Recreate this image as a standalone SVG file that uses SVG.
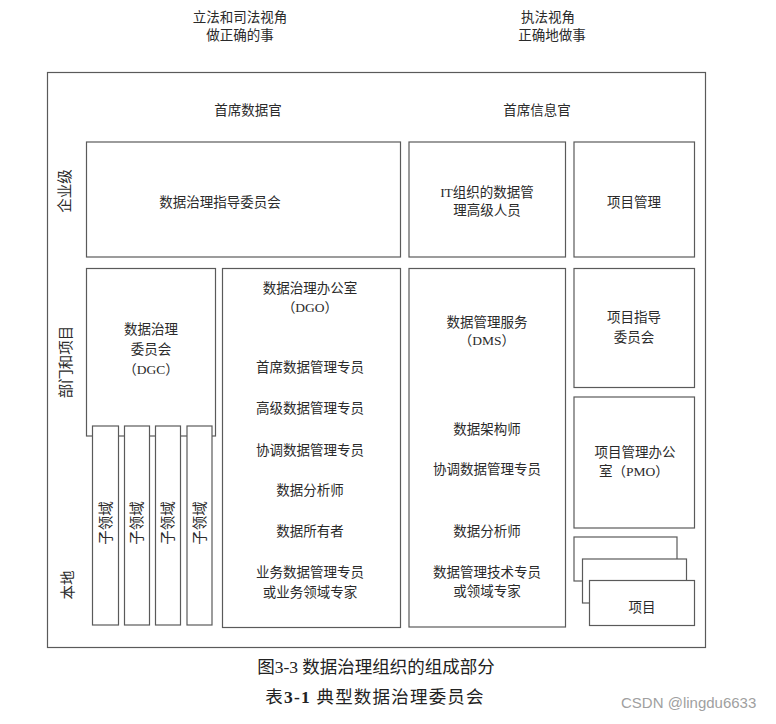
<svg xmlns="http://www.w3.org/2000/svg" width="776" height="724" viewBox="0 0 776 724">
<style>
.b{fill:#fff;stroke:#5a5a5a;stroke-width:1.2}
.t{font-family:"Liberation Serif","Noto Sans CJK SC",serif;font-size:13.5px;fill:#2a2a2a;text-anchor:middle}
.v{font-family:"Liberation Serif","Noto Sans CJK SC",serif;font-size:14.5px;fill:#2a2a2a;text-anchor:middle}
.cap{font-family:"Liberation Serif","Noto Sans CJK SC",serif;font-size:17.5px;font-weight:normal;fill:#222;text-anchor:middle}
.wm{font-family:"Liberation Sans","Noto Sans",sans-serif;font-size:15px;fill:#a0a0a0}
</style>
<rect width="776" height="724" fill="#fff"/>
<g id="headers">
<text class="t" x="240" y="22">立法和司法视角</text>
<text class="t" x="240" y="40">做正确的事</text>
<text class="t" x="548" y="22">执法视角</text>
<text class="t" x="552" y="40">正确地做事</text>
</g>
<g id="frame">
<rect class="b" x="47.5" y="72.5" width="658" height="575"/>
<text class="t" x="248" y="115">首席数据官</text>
<text class="t" x="537" y="115">首席信息官</text>
<text class="v" transform="translate(70,191) rotate(-90)">企业级</text>
<text class="v" transform="translate(71,362) rotate(-90)">部门和项目</text>
<text class="v" transform="translate(73,585) rotate(-90)">本地</text>
</g>
<g id="steering">
<rect class="b" x="86.5" y="142" width="314" height="115"/>
<text class="t" x="220" y="207">数据治理指导委员会</text>
</g>
<g id="it-senior">
<rect class="b" x="409" y="142" width="156.5" height="115"/>
<text class="t" x="487" y="197">IT组织的数据管</text>
<text class="t" x="487" y="215">理高级人员</text>
</g>
<g id="project-mgmt">
<rect class="b" x="574" y="142" width="120.5" height="115"/>
<text class="t" x="634" y="207">项目管理</text>
</g>
<g id="dgc">
<rect class="b" x="86.5" y="268.5" width="129" height="167.5"/>
<text class="t" x="151" y="334">数据治理</text>
<text class="t" x="151" y="354">委员会</text>
<text class="t" x="151" y="374">（DGC）</text>
</g>
<g id="sub1">
<rect class="b" x="92.5" y="426" width="26" height="199"/>
<text class="v" transform="translate(110.5,523) rotate(-90)">子领域</text>
</g>
<g id="sub2">
<rect class="b" x="124.5" y="426" width="25" height="199"/>
<text class="v" transform="translate(142,523) rotate(-90)">子领域</text>
</g>
<g id="sub3">
<rect class="b" x="155.5" y="426" width="25" height="199"/>
<text class="v" transform="translate(173,523) rotate(-90)">子领域</text>
</g>
<g id="sub4">
<rect class="b" x="187" y="426" width="25" height="199"/>
<text class="v" transform="translate(204.5,523) rotate(-90)">子领域</text>
</g>
<g id="dgo">
<rect class="b" x="222.5" y="268.5" width="178" height="359"/>
<text class="t" x="310" y="293">数据治理办公室</text>
<text class="t" x="310" y="312">（DGO）</text>
<text class="t" x="310" y="372">首席数据管理专员</text>
<text class="t" x="310" y="413">高级数据管理专员</text>
<text class="t" x="310" y="455">协调数据管理专员</text>
<text class="t" x="310" y="495">数据分析师</text>
<text class="t" x="310" y="536">数据所有者</text>
<text class="t" x="310" y="577">业务数据管理专员</text>
<text class="t" x="310" y="597">或业务领域专家</text>
</g>
<g id="dms">
<rect class="b" x="409" y="268.5" width="156.5" height="358.5"/>
<text class="t" x="487" y="327">数据管理服务</text>
<text class="t" x="487" y="345">（DMS）</text>
<text class="t" x="487" y="434">数据架构师</text>
<text class="t" x="487" y="474">协调数据管理专员</text>
<text class="t" x="487" y="536">数据分析师</text>
<text class="t" x="487" y="577">数据管理技术专员</text>
<text class="t" x="487" y="596">或领域专家</text>
</g>
<g id="project-steering">
<rect class="b" x="574" y="268.5" width="120.5" height="119"/>
<text class="t" x="634" y="322">项目指导</text>
<text class="t" x="634" y="342">委员会</text>
</g>
<g id="pmo">
<rect class="b" x="574" y="397" width="120.5" height="131"/>
<text class="t" x="635" y="457">项目管理办公</text>
<text class="t" x="634" y="476">室（PMO）</text>
</g>
<g id="projects">
<rect class="b" x="574" y="537" width="103" height="44"/>
<rect class="b" x="582.5" y="559" width="104" height="44"/>
<rect class="b" x="589.5" y="580.5" width="105" height="45"/>
<text class="t" x="642" y="612">项目</text>
</g>
<g id="connectors"></g>
<g id="caption">
<text class="cap" x="376" y="673">图3-3 数据治理组织的组成部分</text>
<text class="cap" x="375" y="703" letter-spacing="1.2">表<tspan font-weight="bold">3-1</tspan> 典型数据治理委员会</text>
</g>
<text class="wm" x="621" y="708">CSDN @lingdu6633</text>
</svg>
